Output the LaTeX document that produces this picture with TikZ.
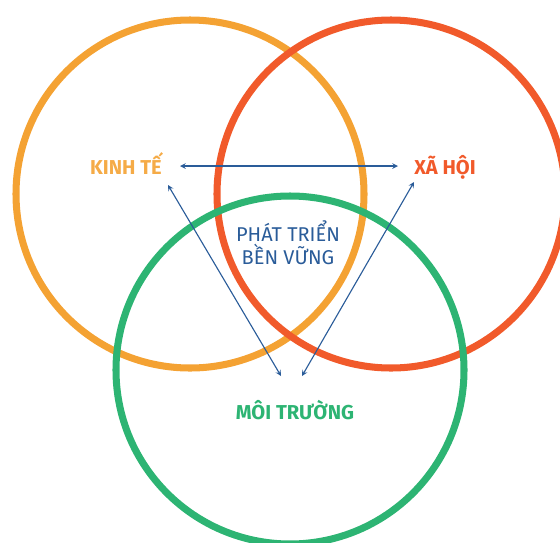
\documentclass[tikz,border=0pt]{standalone}
\usepackage{fontspec}
\setmainfont{Fira Sans}
\usepackage{xcolor}
\usepackage{tikz}

\definecolor{kinhteorange}{HTML}{F4A233}
\definecolor{xahoired}{HTML}{F15A2B}
\definecolor{moitruonggreen}{HTML}{2DB473}
\definecolor{ptbvblue}{HTML}{2A5C99}

\begin{document}
\begin{tikzpicture}[x=0.025cm, y=-0.025cm, >=stealth,
        ring/.style={line width=5pt},
        pillar/.style={font=\bfseries\fontsize{14.3}{16}\selectfont, anchor=base},
        link/.style={<->, draw=ptbvblue, line width=0.8pt}]
        \useasboundingbox (0,0) rectangle (560,542);

        % ba vong tron
        \draw[ring, draw=kinhteorange]   (190,194) circle[radius=174];
        \draw[ring, draw=xahoired]       (391,194) circle[radius=174];
        \draw[ring, draw=moitruonggreen] (290,370) circle[radius=174];

        \node[pillar, text=kinhteorange!90!white] (kinhte)    at (126,174) {KINH TẾ};
        \node[pillar, text=xahoired]              (xahoi)     at (445,174) {XÃ HỘI};
        \node[pillar, text=moitruonggreen]        (moitruong) at (295,419) {MÔI TRƯỜNG};
        \node[font=\fontsize{14.2}{16.2}\selectfont, text=ptbvblue, align=center]
              (ptbv) at (288,243) {PHÁT TRIỂN\\BỀN VỮNG};

        % dau mui ten
        \coordinate (kt-east)  at (180,166);
        \coordinate (xh-west)  at (398,166);
        \coordinate (kt-south) at (168,185);
        \coordinate (xh-south) at (414,182);
        \coordinate (mt-left)  at (281,376);
        \coordinate (mt-right) at (302,376);

        \draw[link] (kt-east) -- (xh-west);
        \draw[link] (kt-south) -- (mt-left);
        \draw[link] (xh-south) -- (mt-right);
    \end{tikzpicture}
\end{document}
